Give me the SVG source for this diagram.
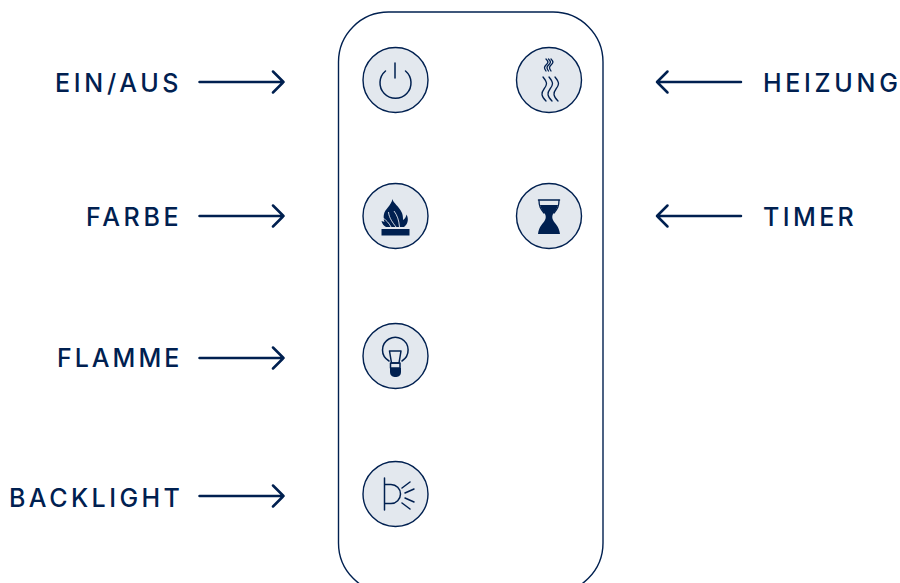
<svg xmlns="http://www.w3.org/2000/svg" width="900" height="583" viewBox="0 0 900 583">
<style>
.l{font-family:Inter,"Liberation Sans",sans-serif;font-size:25px;font-weight:500;letter-spacing:3.7px;fill:#002050}
.c{fill:none;stroke:#002050;stroke-width:2.5;stroke-linecap:round;stroke-linejoin:round}
.b{fill:#e3e8ee;stroke:#002050;stroke-width:1.4}
.i{fill:none;stroke:#002050;stroke-width:1.5;stroke-linecap:round;stroke-linejoin:round}
.t{fill:none;stroke:#002050;stroke-width:1.3;stroke-linecap:round;stroke-linejoin:round}
.f{fill:#002050}
.g{fill:none;stroke:#e3e8ee;stroke-width:0.9}
</style>
<rect id="remote" x="338.500" y="12" width="264.500" height="581" rx="50" fill="none" stroke="#002050" stroke-width="1.400"/>
<g id="connectors">
<path class="c" d="M199.500 82H283.500M273 71.500L283.500 82L273 92.500"/>
<path class="c" d="M199.500 216H283.500M273 205.500L283.500 216L273 226.500"/>
<path class="c" d="M199.500 358H283.500M273 347.500L283.500 358L273 368.500"/>
<path class="c" d="M199.500 496H283.500M273 485.500L283.500 496L273 506.500"/>
<path class="c" d="M741 82H657M667.500 71.500L657 82L667.500 92.500"/>
<path class="c" d="M741 216H657M667.500 205.500L657 216L667.500 226.500"/>
</g>
<g id="label-einaus"><text class="l" x="55" y="92">EIN/AUS</text></g>
<g id="label-farbe"><text class="l" x="86" y="226">FARBE</text></g>
<g id="label-flamme"><text class="l" x="57" y="367" style="letter-spacing:3px">FLAMME</text></g>
<g id="label-backlight"><text class="l" x="9" y="507" style="letter-spacing:3.45px">BACKLIGHT</text></g>
<g id="label-heizung"><text class="l" x="763" y="92">HEIZUNG</text></g>
<g id="label-timer"><text class="l" x="763" y="226" style="letter-spacing:3.4px">TIMER</text></g>
<g id="btn-power">
<circle class="b" cx="395.500" cy="80" r="32.500"/>
<path class="i" d="M395 63V78M385.500 71A15.500 15.500 0 1 0 405.500 71"/>
</g>
<g id="btn-heat">
<circle class="b" cx="549" cy="80" r="32.500"/>
<path class="t" d="M546 59C549 62 548 63 546 65C544 67 544 68 546 71M548.500 59C551.500 62 550.500 63 548.500 65C546.500 67 546.500 68 548.500 71M551 59C554 62 553 63 551 65C549 67 549 68 551 71"/>
<path class="t" d="M543 77C548 83 547 85 544 89C541 93 541 96 546 101M549 77C554 83 553 85 550 89C547 93 547 96 552 101M555 77C560 83 559 85 556 89C553 93 553 96 558 101"/>
</g>
<g id="btn-flame">
<circle class="b" cx="395.500" cy="216" r="32.500"/>
<rect class="f" x="381.500" y="229" width="28" height="6.500"/>
<path class="f" d="M392.500 199C393 203 399 206 402 213C403 216 403 218 403 220C405 219 406 217 406.500 214.500C409 219 408 224 404 227L388 227C384 224 383 218 384 214C385 209 391 206 392.500 199Z"/>
<path class="f" d="M381.500 221C386 222 390 224 392 227L386 227C384 226 382 224 381.500 221Z"/>
<path class="g" d="M388.500 212C389 218 393 223 396 227M394 211C397 215 399 220 399.500 227M383 218C386 220 389 223 391 227"/>
</g>
<g id="btn-timer">
<circle class="b" cx="549" cy="216" r="32.500"/>
<path class="i" d="M538.500 200H559.500"/>
<path class="t" d="M539 200.500C539 207 541 209 544 213"/>
<path class="t" d="M559 200.500C559 207 557 209 554 213"/>
<path class="f" d="M540 205H558C557 209 555 211 553 214C552 216 552 218 553 220C555 224 559 226 560 234H538C539 226 543 224 545 220C546 218 546 216 545 214C543 211 541 209 540 205Z"/>
</g>
<g id="btn-bulb">
<circle class="b" cx="395.500" cy="356" r="32.500"/>
<path class="i" d="M389 361C384 358 382.500 354 382.500 350A12.800 12.800 0 1 1 402 361"/>
<path class="i" d="M389.500 351H401L399 363H391.500Z"/>
<path class="i" d="M390.500 363H400V368H390.500Z"/>
<path class="f" d="M390 368H401V372C401 376 398 377 395.500 377C393 377 390 376 390 372Z"/>
</g>
<g id="btn-backlight">
<circle class="b" cx="395.500" cy="494" r="32.500"/>
<path class="i" d="M384.500 478V510M384.500 484.500H391A9.500 9.500 0 0 1 391 503.500H384.500M402 488L410 482M405 493L414 489M405 498L414 502M402 503L410 509"/>
</g>
</svg>
